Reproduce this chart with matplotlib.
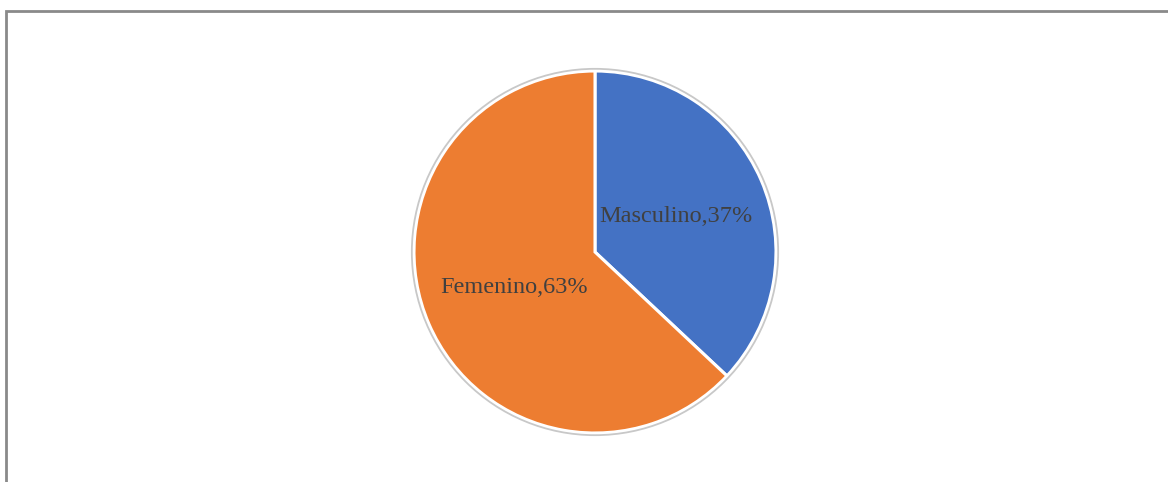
import matplotlib
matplotlib.use("Agg")
import matplotlib.pyplot as plt
from matplotlib.patches import Rectangle, Circle

categories = ["Masculino", "Femenino"]
values = [37, 63]
colors = ["#4472C4", "#ED7D31"]

W, H = 1168, 482
fig = plt.figure(figsize=(W / 100, H / 100), dpi=100)
fig.patch.set_facecolor("white")

# frame border (top and left visible)
fig.add_artist(Rectangle((6 / W, -0.1), 1.2, (H - 11) / H + 0.1, transform=fig.transFigure,
                         fill=False, edgecolor="#8a8a8a", linewidth=2.0))

cx, cy, r = 595, 252, 181
ax = fig.add_axes([(cx - r) / W, (H - cy - r) / H, 2 * r / W, 2 * r / H])
labels = [f"{c},{v}%" for c, v in zip(categories, values)]
wedges, texts = ax.pie(values, labels=labels, colors=colors, startangle=90, counterclock=False,
                       labeldistance=0.49, radius=1.0,
                       wedgeprops=dict(edgecolor="white", linewidth=2.2),
                       textprops=dict(family="Liberation Serif", fontsize=17.5, color="#404040"))
for t in texts:
    t.set_ha("center")
    t.set_va("center")
ax.add_patch(Circle((0, 0), 1.012, fill=False, edgecolor="#c8c8c8", linewidth=1.3, clip_on=False))
ax.set_xlim(-1, 1)
ax.set_ylim(-1, 1)
ax.set_aspect("equal")
ax.axis("off")

fig.savefig("out.png", dpi=100)
